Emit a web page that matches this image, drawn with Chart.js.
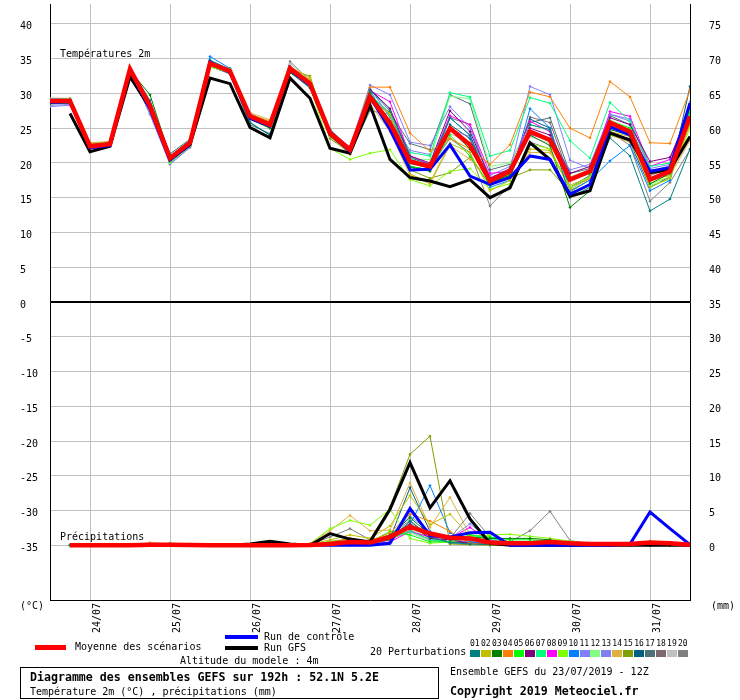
<!DOCTYPE html>
<html><head><meta charset="utf-8">
<script src="https://cdn.jsdelivr.net/npm/chart.js@4/dist/chart.umd.min.js"></script>
<style>
html,body{margin:0;padding:0;background:#fff;}
#wrap{position:relative;width:740px;height:700px;overflow:hidden;font-family:"DejaVu Sans Mono",monospace;font-size:10px;color:#000;}
#c{position:absolute;left:0;top:0;}
.t{position:absolute;line-height:1;white-space:nowrap;transform:translateY(-50%);}
.b{font-weight:bold;font-size:11.6px;}
.sw{position:absolute;}
#box{position:absolute;left:20px;top:667px;width:419px;height:32px;border:1px solid #000;box-sizing:border-box;}
.num{position:absolute;font-size:8px;line-height:1;top:640px;}
.cb{position:absolute;top:650px;width:10px;height:7px;}
</style></head>
<body><div id="wrap">
<canvas id="c" width="740" height="700"></canvas>
<div class="t" style="left:60px;top:54px;">Températures 2m</div>
<div class="t" style="left:60px;top:537px;">Précipitations</div>
<div class="t" style="left:20px;top:606px;">(°C)</div>
<div class="t" style="left:711px;top:606px;">(mm)</div>
<div class="sw" style="left:35px;top:645px;width:31px;height:5px;background:#ff0000;"></div>
<div class="t" style="left:75px;top:647px;">Moyenne des scénarios</div>
<div class="sw" style="left:225px;top:635px;width:33px;height:4px;background:#0000ff;"></div>
<div class="t" style="left:264px;top:637px;">Run de contrôle</div>
<div class="sw" style="left:225px;top:646px;width:33px;height:4px;background:#000;"></div>
<div class="t" style="left:264px;top:648px;">Run GFS</div>
<div class="t" style="left:180px;top:661px;">Altitude du modele : 4m</div>
<div class="t" style="left:370px;top:652px;">20 Perturbations</div>
<div id="pleg"></div>
<div id="box"></div>
<div class="t b" style="left:30px;top:678px;">Diagramme des ensembles GEFS sur 192h : 52.1N 5.2E</div>
<div class="t" style="left:30px;top:692px;">Température 2m (°C) , précipitations (mm)</div>
<div class="t" style="left:450px;top:672px;">Ensemble GEFS du 23/07/2019 - 12Z</div>
<div class="t b" style="left:450px;top:692px;">Copyright 2019 Meteociel.fr</div>
</div>
<script>
// ---------- DATA ----------
const hours = [0,6,12,18,24,30,36,42,48,54,60,66,72,78,84,90,96,102,108,114,120,126,132,138,144,150,156,162,168,174,180,186,192];
const dayHours = [12,36,60,84,108,132,156,180];
const dayLabels = ['24/07','25/07','26/07','27/07','28/07','29/07','30/07','31/07'];
const leftTicks = [-35,-30,-25,-20,-15,-10,-5,0,5,10,15,20,25,30,35,40];
const rightTicks = [0,5,10,15,20,25,30,35,40,45,50,55,60,65,70,75];
const pertNames = ['01','02','03','04','05','06','07','08','09','10','11','12','13','14','15','16','17','18','19','20'];

// Temperature 2m (°C)
const tMean = [28.9,28.9,22.4,22.7,33.5,28.2,20.7,22.9,34.3,33.2,26.7,25.5,33.6,31.4,24.3,21.9,29.5,25.7,20.2,19.5,25.0,22.6,17.4,18.8,24.5,23.3,17.6,18.8,25.8,24.5,17.6,18.8,26.7];
const tGfs  = [null,27.1,21.6,22.4,32.4,27.9,20.5,22.6,32.2,31.4,25.1,23.6,32.2,29.3,22.1,21.4,28.3,20.5,17.9,17.4,16.6,17.6,15.0,16.4,22.9,20.5,15.2,16.0,24.3,23.3,18.6,19.0,23.8];
const tCtrl = [28.7,28.8,22.2,22.5,33.3,27.8,20.4,22.7,34.5,33.0,26.4,25.3,33.4,31.2,24.1,21.7,29.5,24.8,19.0,19.1,22.6,18.1,16.9,17.9,21.0,20.5,15.5,16.9,25.2,24.0,18.8,19.3,28.6];
const tP01 = [29.0,29.1,22.6,22.9,33.6,29.0,21.3,23.4,34.8,33.4,25.8,24.0,33.2,31.0,24.8,22.0,30.5,27.5,20.8,19.7,26.5,24.0,17.0,18.0,25.5,24.8,15.0,16.5,23.6,21.0,13.1,14.8,22.0];
const tP02 = [29.1,29.2,22.8,23.0,33.4,28.4,20.8,23.0,33.9,33.5,27.0,26.0,33.8,32.3,23.8,21.2,28.8,27.1,18.4,17.2,22.8,21.5,16.0,17.5,22.0,21.8,16.2,17.8,24.5,23.8,16.5,17.8,25.5];
const tP03 = [28.5,28.6,22.5,22.8,33.3,29.8,20.9,23.2,34.0,33.1,26.3,25.0,33.0,31.2,23.9,21.6,30.0,26.0,19.4,18.8,24.8,22.0,17.2,18.2,24.0,22.5,13.6,16.0,24.8,24.0,17.0,18.5,28.5];
const tP04 = [29.0,29.0,22.6,22.9,33.7,28.0,20.6,23.2,34.6,33.5,26.9,25.8,33.7,31.8,24.6,22.0,30.9,30.9,24.3,21.7,23.5,22.0,19.8,22.6,30.2,29.5,25.0,23.6,31.7,29.5,22.9,22.8,30.5];
const tP05 = [29.0,29.0,22.5,22.8,33.5,27.8,20.2,22.6,34.0,33.0,26.5,25.5,33.5,31.0,24.0,21.8,29.8,25.0,19.5,19.0,24.0,21.0,16.8,18.5,24.5,23.0,17.5,18.5,26.0,25.0,18.5,19.5,27.5];
const tP06 = [28.9,29.0,22.4,22.7,33.5,28.5,20.8,23.0,34.2,33.3,26.8,25.8,33.9,31.6,24.5,22.1,30.6,27.8,21.0,20.0,27.5,24.5,17.8,19.2,25.0,24.0,18.5,19.5,26.5,25.5,20.2,20.8,27.5];
const tP07 = [29.0,29.1,22.6,22.8,33.4,28.0,20.5,22.8,34.4,33.2,26.6,25.4,33.4,31.3,24.4,22.0,30.0,26.8,21.5,21.0,30.1,29.5,21.0,21.8,29.4,28.6,23.2,20.7,28.7,26.0,19.5,20.0,27.0];
const tP08 = [29.1,29.1,22.7,22.9,33.6,28.3,20.7,23.0,34.5,33.4,27.0,25.9,33.8,31.5,24.6,22.2,30.4,28.8,21.0,19.8,26.8,25.5,18.5,18.8,26.0,24.5,17.5,18.6,27.4,26.7,19.5,20.5,28.0];
const tP09 = [29.0,29.0,22.5,22.8,33.4,27.5,20.0,22.4,33.8,33.0,26.4,25.5,33.2,31.0,22.1,20.5,21.4,21.9,17.6,16.7,18.8,19.2,16.2,17.0,22.8,22.0,16.5,18.0,24.0,23.5,17.0,18.0,25.0];
const tP10 = [29.2,29.2,22.7,23.0,33.7,28.5,20.8,23.2,35.3,33.6,26.8,25.6,33.8,31.6,24.4,21.8,30.5,25.5,19.0,19.0,26.5,24.0,16.5,17.5,27.8,25.0,16.0,17.5,20.3,22.5,16.0,17.5,28.0];
const tP11 = [28.1,28.3,22.0,22.4,33.2,27.0,19.8,22.2,34.5,33.3,26.9,25.7,33.5,31.4,24.6,22.3,31.2,29.8,23.0,22.5,28.1,25.0,17.8,19.0,31.0,29.8,20.4,19.2,27.0,26.0,19.2,19.8,28.8];
const tP12 = [28.9,29.0,22.5,22.7,33.4,28.1,20.6,22.9,34.1,33.1,26.6,25.4,33.3,31.2,24.2,21.9,29.0,25.5,20.5,20.5,29.6,29.2,19.5,20.0,25.5,24.6,18.0,19.0,26.2,25.0,16.8,17.6,26.5];
const tP13 = [28.3,28.4,22.2,22.5,33.3,27.2,19.9,22.3,34.7,33.5,27.1,25.8,33.6,31.5,24.8,22.2,30.8,26.5,21.8,21.2,24.8,23.8,18.2,19.5,24.0,23.5,19.0,19.8,27.0,26.3,18.8,19.6,27.8];
const tP14 = [29.3,29.3,22.9,23.1,33.8,28.6,20.9,23.3,34.0,33.6,27.2,26.2,33.5,32.0,24.0,21.5,28.5,24.5,18.2,17.0,22.5,20.5,17.8,18.2,21.5,21.5,16.8,18.0,24.0,23.0,17.5,18.2,23.2];
const tP15 = [29.0,29.0,22.5,22.8,33.5,28.4,20.8,23.0,34.0,33.0,26.5,25.3,33.4,32.5,23.5,21.5,29.2,25.0,19.0,17.8,18.6,20.8,16.8,17.8,19.0,19.0,15.8,17.6,24.0,23.5,17.8,19.0,26.0];
const tP16 = [29.0,29.0,22.4,22.6,33.3,28.0,20.6,22.7,34.2,32.9,25.8,24.0,33.2,30.8,24.0,21.8,30.0,26.0,19.5,19.0,25.5,23.5,16.8,18.5,26.3,25.0,16.5,18.2,24.5,23.0,16.5,18.0,31.0];
const tP17 = [28.8,28.8,22.3,22.6,33.2,27.6,20.3,22.5,33.9,32.8,25.5,24.2,33.0,30.8,23.8,21.6,29.7,27.2,22.8,21.9,29.8,28.5,19.0,19.8,25.8,26.5,18.5,19.2,26.8,25.5,18.5,19.5,27.2];
const tP18 = [28.9,28.9,22.5,22.7,33.4,27.8,20.2,22.8,34.3,33.2,26.4,25.2,33.8,31.5,24.1,21.8,29.3,27.0,20.0,19.2,26.5,25.5,17.5,18.2,26.6,25.8,17.8,18.5,25.2,24.5,18.2,19.2,27.0];
const tP19 = [28.8,28.9,22.4,22.6,33.2,27.4,19.9,22.4,34.1,33.0,26.3,25.0,34.3,32.0,24.0,21.5,28.8,26.0,19.8,19.5,24.2,23.0,18.0,18.8,23.8,22.8,17.5,18.6,25.5,24.5,17.5,18.3,25.8];
const tP20 = [28.9,28.9,22.4,22.6,33.2,27.0,20.0,22.4,34.6,33.3,26.5,25.2,34.6,31.8,24.2,21.5,27.5,27.0,20.6,19.5,23.5,21.5,13.8,16.8,23.0,22.0,16.5,17.8,24.5,22.5,14.5,17.2,21.9];

// Precipitation (mm)
const pMean = [null,0,0,0,0,0.1,0.1,0.05,0,0,0,0,0,0.05,0.2,0.5,0.4,1.2,2.7,1.7,1.1,1.0,0.4,0.3,0.3,0.5,0.3,0.2,0.2,0.2,0.4,0.3,0.1];
const pGfs  = [null,0,0,0,0,0,0,0,0,0,0.2,0.6,0.2,0,1.7,0.9,0.5,5.2,11.9,5.4,9.3,3.8,0.3,0,0,0,0,0,0,0,0,0,0];
const pCtrl = [null,0,0,0,0,0,0,0,0,0,0,0,0,0,0,0,0,0.3,5.3,1.4,1.2,1.8,1.9,0,0,0,0,0,0,0.2,4.8,2.4,0.1];
const pP01 = [null,0,0,0,0,0,0.1,0,0,0,0,0,0,0,0.3,0.5,0.2,0.8,3.5,1.2,0.4,0.2,0.1,0,0,0,0,0,0,0,0,0,0];
const pP02 = [null,0,0,0,0,0.2,0.1,0,0,0,0,0,0,0.1,0.8,1.5,1.0,2.8,7.2,3.0,4.5,1.3,0.2,0,0,0,0.1,0,0,0,0,0,0];
const pP03 = [null,0,0,0,0,0,0.1,0.1,0,0,0,0,0,0,0.2,0.3,0.3,1.5,4.0,1.5,1.0,1.2,1.0,1.0,1.0,0.8,0.3,0.1,0,0,0,0,0];
const pP04 = [null,0,0,0,0,0.1,0.2,0,0,0,0,0,0,0,0.5,1.0,0.6,1.8,4.5,3.5,2.0,0.3,0.1,0,0,0.3,0.5,0.1,0,0,0.2,0.1,0];
const pP05 = [null,0,0,0,0,0,0.3,0.2,0,0,0,0,0,0,0.6,0.8,0.5,2.0,1.5,0.5,0.5,1.5,1.2,0.8,0.8,0.6,0.4,0.2,0.2,0.2,0.5,0.3,0];
const pP06 = [null,0,0,0,0,0,0,0,0,0,0,0,0,0,0.1,0.2,0.3,1.0,3.0,1.0,0.8,0.3,0.2,0,0,0,0,0,0,0,0,0,0];
const pP07 = [null,0,0,0,0,0,0.1,0.1,0,0,0,0,0,0,0.2,0.5,0.3,1.0,2.0,0.8,0.5,1.5,1.0,0.5,0.3,0.2,0.2,0.1,0,0,0,0,0];
const pP08 = [null,0,0,0,0,0,0,0,0,0,0,0,0,0,0.1,0.2,0.2,0.5,2.0,1.2,1.0,2.6,0.5,0.1,0,0,0,0,0,0,0,0,0];
const pP09 = [null,0,0,0,0,0.1,0.3,0.1,0,0,0,0,0,0.2,2.4,3.6,2.9,5.2,1.0,0.3,0.5,1.2,1.5,1.6,1.3,1.0,0.6,0.3,0.3,0.2,0.2,0.1,0];
const pP10 = [null,0,0,0,0,0,0,0,0,0,0,0,0,0,0.2,0.3,0.3,1.2,3.0,8.6,1.8,0.5,0.3,0,0,0,0,0,0,0,0,0,0];
const pP11 = [null,0,0,0,0,0,0,0,0,0,0,0,0,0,0.1,0.2,0.2,1.0,5.0,1.5,1.0,3.1,0.8,0.2,0,0,0,0,0,0,0,0,0];
const pP12 = [null,0,0,0,0,0,0.1,0,0,0,0,0,0,0,0.3,0.5,0.4,1.5,2.5,1.0,0.8,1.0,0.9,0.5,0.3,0.3,0.4,0.2,0.1,0,0,0,0];
const pP13 = [null,0,0,0,0,0,0,0,0,0,0,0,0,0,0.1,0.2,0.3,1.0,4.2,2.0,0.8,0.5,0.2,0,0,0,0,0,0,0,0,0,0];
const pP14 = [null,0,0,0,0,0.4,0.2,0.1,0,0,0,0,0,0.3,2.1,4.3,2.1,2.2,9.0,2.6,6.9,1.5,0.3,0.2,0.2,1.0,0.4,0.1,0,0,0.3,0.1,0];
const pP15 = [null,0,0,0,0,0.1,0.1,0,0,0,0,0,0,0,0.3,0.5,0.8,5.5,13.1,15.7,0.2,0.1,0,0,0,0,0,0,0,0.1,0.6,0.2,0];
const pP16 = [null,0,0,0,0,0,0,0,0,0,0,0,0,0,0.2,0.3,0.3,1.0,8.3,2.0,0.3,0.5,0.3,0.1,0,0,0,0,0,0,0,0,0];
const pP17 = [null,0,0,0,0,0,0,0,0,0,0,0,0,0,0.1,0.3,0.2,1.2,3.2,1.0,0.5,0.4,0.2,0,0,0,0,0,0,0,0,0,0];
const pP18 = [null,0,0,0,0,0,0,0,0,0,0,0,0,0,0.1,0.2,0.2,0.8,2.2,0.8,0.5,0.3,0.1,0,0,0,0,0,0,0,0,0,0];
const pP19 = [null,0,0,0,0,0,0.1,0,0,0,0,0,0,0,0.2,0.4,0.3,1.0,1.8,0.6,0.4,0.3,0.2,0,0,0,0.1,0,0,0,0,0,0];
const pP20 = [null,0,0,0,0,0.1,0.2,0.1,0,0,0,0,0,0.1,1.2,2.4,0.8,1.5,3.6,1.2,1.0,4.6,1.2,0.5,2.1,4.9,0.7,0.2,0,0,0.1,0,0];

// ---------- STYLE ----------
const pertColors = ['#008080','#c0c000','#008000','#ff8000','#00ff00','#800080','#00ff80','#ff00ff','#80ff00','#0080ff','#8080ff','#80ff80','#8080f0','#e0b040','#80a000','#006080','#507078','#806870','#c0c0c0','#808080'];
const tPerts = [tP01,tP02,tP03,tP04,tP05,tP06,tP07,tP08,tP09,tP10,tP11,tP12,tP13,tP14,tP15,tP16,tP17,tP18,tP19,tP20];
const pPerts = [pP01,pP02,pP03,pP04,pP05,pP06,pP07,pP08,pP09,pP10,pP11,pP12,pP13,pP14,pP15,pP16,pP17,pP18,pP19,pP20];

// perturbation legend
const pleg = document.getElementById('pleg');
pertNames.forEach((n,k)=>{
  const x = 470 + k*10.95;
  const s = document.createElement('div'); s.className='num'; s.style.left=(x)+'px'; s.textContent=n; pleg.appendChild(s);
  const b = document.createElement('div'); b.className='cb'; b.style.left=x+'px'; b.style.background=pertColors[k]; pleg.appendChild(b);
});

const xy = arr => hours.map((h,i)=>({x:h, y:arr[i]}));
const datasets = [];
function pert(arr, k, axis){
  return {data: xy(arr), yAxisID: axis, borderColor: pertColors[k], backgroundColor: pertColors[k],
    borderWidth: 1, pointRadius: 1.6, pointStyle:'rectRot', pointBorderWidth:0, order: 3, spanGaps:false};
}
tPerts.forEach((a,k)=>datasets.push(pert(a,k,'y')));
pPerts.forEach((a,k)=>datasets.push(pert(a,k,'y2')));
function main(arr, color, w, ord, axis){
  return {data: xy(arr), yAxisID: axis, borderColor: color, backgroundColor: color, borderWidth: w, pointRadius: 0, order: ord};
}
datasets.push(main(tGfs,'#000000',3,2,'y'));
datasets.push(main(pGfs,'#000000',3,2,'y2'));
datasets.push(main(tCtrl,'#0000ff',3,1,'y'));
datasets.push(main(pCtrl,'#0000ff',3,1,'y2'));
datasets.push(main(tMean,'#ff0000',4.5,0,'y'));
datasets.push(main(pMean,'#ff0000',4.5,0,'y2'));

Chart.defaults.font.family = "'DejaVu Sans Mono', monospace";
Chart.defaults.font.size = 10;
Chart.defaults.color = '#000';

const half = 300/7;
new Chart(document.getElementById('c').getContext('2d'), {
  type: 'line',
  data: { datasets },
  options: {
    responsive: false, animation: false, devicePixelRatio: 1,
    layout: { padding: { left: 20, right: 0, top: 0, bottom: 60 } },
    plugins: { legend: { display: false }, tooltip: { enabled: false } },
    elements: { line: { tension: 0 } },
    scales: {
      x: {
        type: 'linear', min: 0, max: 192, position: 'bottom',
        afterBuildTicks: s => { s.ticks = dayHours.map(v => ({ value: v })); },
        afterFit: s => { s.height = 40; s.paddingLeft = 0; s.paddingRight = 0; },
        ticks: { autoSkip: false, minRotation: 90, maxRotation: 90, padding: 3, labelOffset: 7,
          callback: v => dayLabels[dayHours.indexOf(v)] },
        grid: { color: '#c0c0c0', drawTicks: false },
        border: { color: '#000', width: 1 }
      },
      y: {
        position: 'left', min: -half, max: half,
        afterBuildTicks: s => { s.ticks = leftTicks.map(v => ({ value: v })); },
        afterFit: s => { s.width = 30; s.paddingTop = 0; s.paddingBottom = 0; },
        ticks: { crossAlign: 'far', padding: 0, labelOffset: 3, callback: v => String(v) },
        grid: { drawTicks: false,
          color: c => (c.tick && c.tick.value === 0) ? '#000' : '#c0c0c0',
          lineWidth: c => (c.tick && c.tick.value === 0) ? 2 : 1 },
        border: { color: '#000', width: 1 }
      },
      y2: {
        position: 'right', min: 35 - half, max: 35 + half,
        afterBuildTicks: s => { s.ticks = rightTicks.map(v => ({ value: v })); },
        afterFit: s => { s.width = 50; s.paddingTop = 0; s.paddingBottom = 0; },
        ticks: { padding: 19, labelOffset: 3, callback: v => String(v) },
        grid: { display: false, drawTicks: false },
        border: { color: '#000', width: 1 }
      }
    }
  }
});
</script>
</body></html>
